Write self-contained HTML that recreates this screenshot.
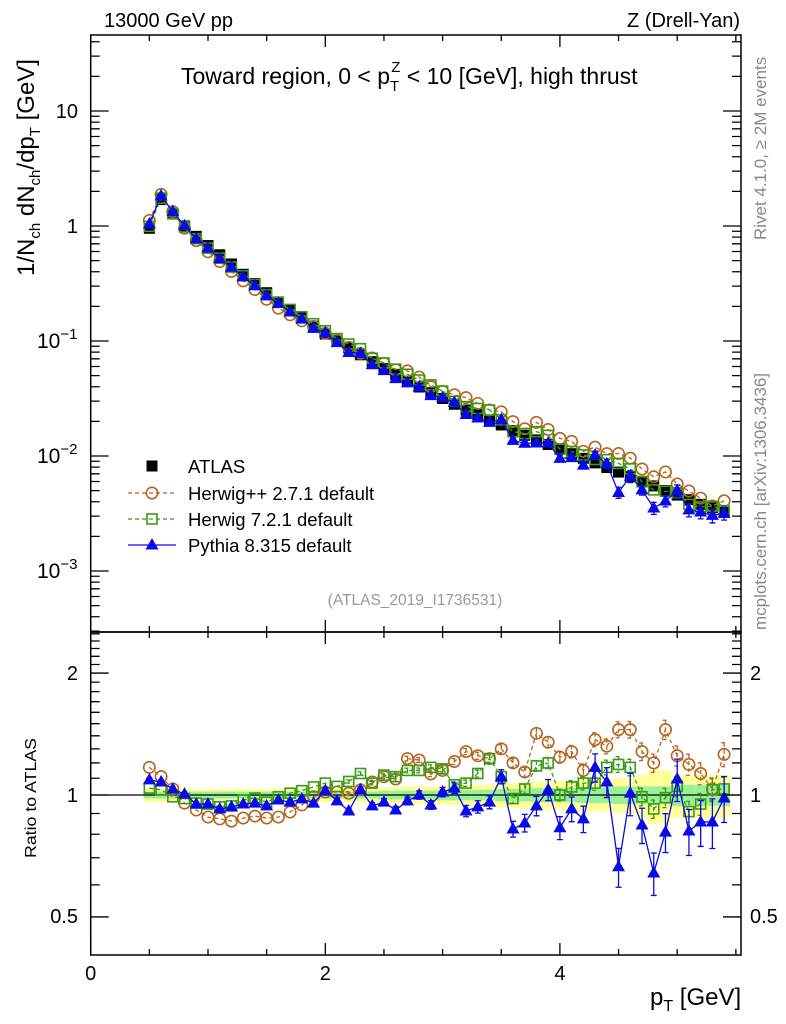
<!DOCTYPE html>
<html><head><meta charset="utf-8"><style>
html,body{margin:0;padding:0;background:#fff;}
svg{display:block;font-family:"Liberation Sans",Arial,sans-serif;}
</style></head><body>
<svg id="c" width="786" height="1024" viewBox="0 0 786 1024" xmlns="http://www.w3.org/2000/svg"></svg>
<script>
const xs=[0.5,0.6,0.7,0.8,0.9,1.0,1.1,1.2,1.3,1.4,1.5,1.6,1.7,1.8,1.9,2.0,2.1,2.2,2.3,2.4,2.5,2.6,2.7,2.8,2.9,3.0,3.1,3.2,3.3,3.4,3.5,3.6,3.7,3.8,3.9,4.0,4.1,4.2,4.3,4.4,4.5,4.6,4.7,4.8,4.9,5.0,5.1,5.2,5.3,5.4];
const atlasLog=[-0.02,0.23,0.11,0.0,-0.09,-0.17,-0.25,-0.33,-0.42,-0.50,-0.58,-0.66,-0.73,-0.80,-0.87,-0.94,-1.00,-1.06,-1.12,-1.18,-1.24,-1.29,-1.35,-1.40,-1.45,-1.50,-1.55,-1.60,-1.64,-1.69,-1.73,-1.78,-1.82,-1.86,-1.90,-1.94,-1.98,-2.02,-2.06,-2.10,-2.14,-2.18,-2.22,-2.26,-2.30,-2.34,-2.38,-2.42,-2.45,-2.49];
const rHpp=[1.17,1.11,1.035,0.955,0.918,0.882,0.873,0.862,0.877,0.887,0.877,0.882,0.908,0.945,0.99,1.017,1.017,1.01,1.03,1.077,1.11,1.095,1.23,1.22,1.127,1.15,1.21,1.28,1.25,1.23,1.30,1.20,1.14,1.42,1.35,1.24,1.28,1.15,1.37,1.32,1.45,1.45,1.28,1.20,1.45,1.25,1.19,1.13,1.035,1.26];
const rH7=[1.04,1.03,0.99,0.98,0.955,0.95,0.935,0.94,0.972,0.983,0.96,0.99,1.01,1.025,1.047,1.07,1.05,1.08,1.13,1.07,1.12,1.11,1.15,1.15,1.17,1.16,1.06,1.07,1.13,1.23,1.11,0.98,1.035,1.18,1.20,1.0,1.047,1.07,1.07,1.17,1.19,1.17,0.99,0.924,0.985,1.05,0.91,0.95,1.03,1.035];
const rPy=[1.09,1.077,1.035,1.005,0.95,0.95,0.924,0.935,0.95,0.955,0.94,0.972,0.96,0.978,0.955,1.025,0.967,0.913,1.03,0.94,0.96,0.918,0.967,1.0,0.945,1.017,1.04,0.913,0.935,0.96,1.11,0.824,0.853,0.94,1.03,0.83,0.924,0.873,1.17,1.077,0.665,1.01,0.843,0.642,0.81,1.095,0.815,0.858,0.858,0.983];
const errPy=[0.01,0.01,0.01,0.01,0.01,0.01,0.01,0.01,0.01,0.01,0.012,0.012,0.012,0.013,0.013,0.014,0.015,0.016,0.017,0.018,0.02,0.02,0.022,0.024,0.025,0.027,0.03,0.032,0.035,0.037,0.04,0.045,0.05,0.055,0.06,0.065,0.07,0.075,0.08,0.085,0.11,0.12,0.1,0.12,0.11,0.12,0.13,0.13,0.14,0.13];
const errHw=[0.005,0.005,0.005,0.005,0.005,0.005,0.005,0.005,0.005,0.005,0.006,0.006,0.006,0.007,0.007,0.008,0.008,0.009,0.01,0.01,0.011,0.012,0.013,0.014,0.015,0.016,0.017,0.018,0.02,0.021,0.023,0.025,0.027,0.03,0.032,0.034,0.036,0.038,0.04,0.042,0.045,0.047,0.05,0.052,0.055,0.057,0.06,0.062,0.065,0.068];
const bandIn=[0.02,0.02,0.02,0.02,0.02,0.02,0.02,0.02,0.02,0.02,0.02,0.02,0.02,0.02,0.02,0.02,0.02,0.02,0.02,0.02,0.025,0.025,0.025,0.025,0.025,0.03,0.03,0.03,0.03,0.03,0.035,0.035,0.035,0.04,0.04,0.04,0.04,0.045,0.045,0.045,0.05,0.05,0.05,0.05,0.05,0.06,0.06,0.06,0.06,0.06];
const bandOut=[0.04,0.04,0.04,0.035,0.035,0.035,0.035,0.035,0.035,0.035,0.035,0.035,0.035,0.035,0.035,0.04,0.04,0.04,0.04,0.04,0.045,0.045,0.05,0.05,0.05,0.05,0.055,0.055,0.06,0.06,0.07,0.07,0.075,0.075,0.08,0.08,0.085,0.09,0.09,0.09,0.1,0.1,0.12,0.15,0.15,0.12,0.12,0.12,0.12,0.12];

const svg=document.getElementById('c');
const NS='http://www.w3.org/2000/svg';
function mk(tag,attrs,parent){const e=document.createElementNS(NS,tag);for(const k in attrs)e.setAttribute(k,attrs[k]);(parent||svg).appendChild(e);return e;}
const L=90.7,R=741,T=35,M=632,B=955;
const X=v=>L+(v)*117.3;
const Y=v=>226-115*Math.log10(v);
const YR=r=>795-405*Math.log10(r);

const defs=mk('defs',{});
const c1=mk('clipPath',{id:'cm'},defs);mk('rect',{x:L,y:T,width:R-L,height:M-T},c1);
const c2=mk('clipPath',{id:'cr'},defs);mk('rect',{x:L,y:M,width:R-L,height:B-M},c2);

const gBand=mk('g',{'clip-path':'url(#cr)'});


xs.forEach((x,i)=>{
  const x0=X(x-0.05),w=117.3*0.1;
  const ry=mk('rect',{x:x0,y:YR(1+bandOut[i]),width:w,height:YR(1-bandOut[i])-YR(1+bandOut[i]),fill:'#ffff99'},gBand);
  
  
  const rg=mk('rect',{x:x0,y:YR(1+bandIn[i]),width:w,height:YR(1-bandIn[i])-YR(1+bandIn[i]),fill:'#99f099'},gBand);
  
  
});
const one=mk('line',{x1:L,x2:R,y1:YR(1),y2:YR(1),stroke:'#000','stroke-width':1.3});



function marker(g,type,cx,cy,color){
  let e;
  if(type==='sq') e=mk('rect',{x:cx-5.5,y:cy-5.5,width:11,height:11,fill:'#000'},g);
  else if(type==='osq') e=mk('rect',{x:cx-5,y:cy-5,width:10,height:10,fill:'none',stroke:color,'stroke-width':1.6},g);
  else if(type==='oc') e=mk('circle',{cx:cx,cy:cy,r:5.7,fill:'none',stroke:color,'stroke-width':1.6},g);
  else e=mk('path',{d:`M${cx},${cy-7}L${cx+6.5},${cy+4.5}L${cx-6.5},${cy+4.5}Z`,fill:color},g);
  return e;
}
function series(name,vals,errs,type,color,dash,yf,clip,line){
  const g=mk('g',{'clip-path':clip});
  
  
  if(line){
    const pts=xs.map((x,i)=>X(x)+','+yf(vals[i])).join(' ');
    const pl=mk('polyline',{points:pts,fill:'none',stroke:color,'stroke-width':1.3,'stroke-dasharray':dash||'none'},g);
    
    
  }
  xs.forEach((x,i)=>{
    if(errs){
      const e=errs[i],cx=X(x),y1=yf(vals[i]*(1+e)),y2=yf(vals[i]*(1-e));
      if(y2-y1>3){
        const eb=mk('path',{d:`M${cx},${y1}V${y2}M${cx-3},${y1}H${cx+3}M${cx-3},${y2}H${cx+3}`,stroke:color,'stroke-width':1.3,fill:'none','stroke-dasharray':dash||'none'},g);
        
        
      }
    }
    const m=marker(g,type,X(x),yf(vals[i]),color);
    
    
  });
}
const atlas=atlasLog.map(v=>Math.pow(10,v));
const hpp=atlas.map((v,i)=>v*rHpp[i]);
const h7=atlas.map((v,i)=>v*rH7[i]);
const py=atlas.map((v,i)=>v*rPy[i]);
series('atlas-data',atlas,null,'sq','#000',null,Y,'url(#cm)',false);
series('herwigpp-main',hpp,null,'oc','#b5651d','4,3',Y,'url(#cm)',true);
series('herwig7-main',h7,null,'osq','#3a9a14','4,3',Y,'url(#cm)',true);
series('pythia-main',py,errPy,'tri','#0a0ae6',null,Y,'url(#cm)',true);
series('herwigpp-ratio',rHpp,errHw,'oc','#b5651d','4,3',YR,'url(#cr)',true);
series('herwig7-ratio',rH7,errHw,'osq','#3a9a14','4,3',YR,'url(#cr)',true);
series('pythia-ratio',rPy,errPy,'tri','#0a0ae6',null,YR,'url(#cr)',true);

const f1=mk('rect',{x:L,y:T,width:R-L,height:M-T,fill:'none',stroke:'#000','stroke-width':1.5});


const f2=mk('rect',{x:L,y:M,width:R-L,height:B-M,fill:'none',stroke:'#000','stroke-width':1.5});



let d='';
for(let v=0;v<=5.5;v+=0.5){const x=X(v),len=(v%2===0)?12:6;
  d+=`M${x},${B}v${-len}M${x},${M}v${-len}M${x},${T}v${len}M${x},${M}v${len}`;}
for(let e=-4;e<=1;e++){for(let k=1;k<10;k++){const v=k*Math.pow(10,e);const y=Y(v);if(y<T||y>M)continue;const len=k===1?18:9;
  d+=`M${L},${y}h${len}M${R},${y}h${-len}`;}}
for(let k=4;k<=25;k++){const r=k/10;const y=YR(r);if(y<M||y>B)continue;const len=(r===0.5||r===1||r===2)?18:9;
  d+=`M${L},${y}h${len}M${R},${y}h${-len}`;}
const tk=mk('path',{d:d,stroke:'#000','stroke-width':1.3,fill:'none'});



function txt(s,x,y,attrs,name){const t=mk('text',Object.assign({x:x,y:y,'font-size':20,fill:'#000'},attrs||{}));t.innerHTML=s;return t;}
const xtl=['0','2','4'];
xtl.forEach(s=>txt(s,X(+s),980,{'text-anchor':'middle'},'x-tick-label'));
txt('10',78,118,{'text-anchor':'end'},'y-tick-label');
txt('1',78,233,{'text-anchor':'end'},'y-tick-label');
[['-1',348],['-2',463],['-3',578]].forEach(a=>txt('10<tspan font-size="15" dy="-9">−'+a[0].slice(1)+'</tspan>',37,a[1],{'font-size':21},'y-tick-label'));
txt('2',78,680,{'text-anchor':'end'},'ratio-tick-label');
txt('1',78,802,{'text-anchor':'end'},'ratio-tick-label');
txt('0.5',78,923,{'text-anchor':'end'},'ratio-tick-label');
txt('2',750,680,{},'ratio-tick-label-right');
txt('1',750,802,{},'ratio-tick-label-right');
txt('0.5',750,923,{},'ratio-tick-label-right');
txt('13000 GeV pp',104,27,{},'collision-label');
txt('Z (Drell-Yan)',740,27,{'text-anchor':'end'},'process-label');
txt('Toward region, 0 &lt; p<tspan font-size="15" dy="7">T</tspan><tspan font-size="15" dx="-8" dy="-19">Z</tspan><tspan dy="12"> &lt; 10 [GeV], high thrust</tspan>',181,84,{'font-size':23},'plot-title');
txt('p<tspan font-size="16" dy="6">T</tspan><tspan dy="-6"> [GeV]</tspan>',650,1005,{'font-size':24},'x-axis-title');
txt('1/N<tspan font-size="15" dy="6">ch</tspan><tspan dy="-6"> dN</tspan><tspan font-size="15" dy="6">ch</tspan><tspan dy="-6">/dp</tspan><tspan font-size="15" dy="6">T</tspan><tspan dy="-6"> [GeV]</tspan>',0,0,{transform:'translate(34,276) rotate(-90)','font-size':24},'y-axis-title');
txt('Ratio to ATLAS',0,0,{transform:'translate(36,858) rotate(-90)','font-size':16,textLength:120,lengthAdjust:'spacingAndGlyphs'},'ratio-axis-title');
txt('Rivet 4.1.0, ≥ 2M events',0,0,{transform:'translate(766,240) rotate(-90)','font-size':17,fill:'#888'},'rivet-label');
txt('mcplots.cern.ch [arXiv:1306.3436]',0,0,{transform:'translate(766,630) rotate(-90)','font-size':17,fill:'#888'},'mcplots-label');
txt('(ATLAS_2019_I1736531)',415,605,{'text-anchor':'middle','font-size':15.5,fill:'#999'},'analysis-id');

const lg=mk('g',{});


const leg=[['ATLAS','sq','#000',null,466],['Herwig++ 2.7.1 default','oc','#b5651d','4,3',493],['Herwig 7.2.1 default','osq','#3a9a14','4,3',519],['Pythia 8.315 default','tri','#0a0ae6',null,545]];
leg.forEach(l=>{
  const g=mk('g',{},lg);
  
  
  if(l[1]!=='sq'){const ln=mk('line',{x1:128,x2:176,y1:l[4],y2:l[4],stroke:l[2],'stroke-width':1.3,'stroke-dasharray':l[3]||'none'},g);}
  const m=marker(g,l[1],152,l[4],l[2]);
  
  
  const t=mk('text',{x:188,y:l[4]+7,'font-size':18.5,fill:'#000'},g);t.textContent=l[0];
  
  
});
</script>
</body></html>
